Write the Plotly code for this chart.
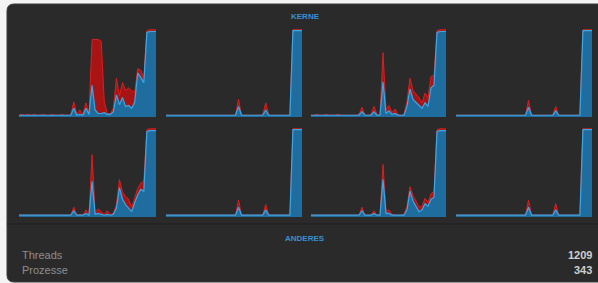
import plotly.graph_objects as go

W, H = 598, 283

# sample index (46 samples across each core history)
samples = list(range(46))

# ---- core 1 (row 1, col 1)
core1_user = [2, 2, 2, 2, 2, 2, 2, 2, 2, 2, 2, 2, 2, 2, 2, 2, 2, 2, 10, 2, 3, 2, 10, 3,
              36, 8, 4, 4, 5, 3, 3, 6, 25, 14, 22, 12, 13, 10, 17, 50, 45, 39, 96, 97, 97, 97]
core1_total = [2, 3, 2, 3, 2, 3, 2, 2, 3, 2, 2, 3, 2, 2, 3, 2, 2, 2, 17, 3, 8, 3, 16, 4,
               88, 88, 88, 86, 18, 4, 4, 10, 44, 24, 39, 30, 33, 30, 28, 55, 53, 44, 98, 99, 99, 99]
# ---- core 2 (row 1, col 2)
core2_user = [2, 2, 2, 2, 2, 2, 2, 2, 2, 2, 2, 2, 2, 2, 2, 2, 2, 2, 2, 2, 2, 2, 2, 2,
              12, 2, 2, 2, 2, 2, 2, 2, 2, 8, 2, 2, 2, 2, 2, 2, 2, 2, 98, 98, 98, 98]
core2_total = [2, 2, 2, 2, 2, 2, 2, 2, 2, 2, 2, 2, 2, 2, 2, 2, 2, 2, 2, 2, 2, 2, 2, 2,
               20, 2, 2, 2, 2, 2, 2, 2, 2, 16, 2, 2, 2, 2, 2, 2, 2, 2, 99, 99, 99, 99]
# ---- core 3 (row 1, col 3)
core3_user = [2, 2, 2, 2, 2, 2, 2, 2, 2, 2, 2, 2, 2, 2, 2, 2, 2, 6, 2, 2, 2, 6, 2, 2,
              40, 4, 7, 3, 4, 2, 2, 2, 12, 32, 20, 17, 14, 10, 16, 12, 33, 36, 96, 97, 97, 97]
core3_total = [2, 2, 3, 2, 2, 3, 2, 2, 2, 3, 2, 2, 2, 2, 2, 2, 3, 11, 2, 2, 3, 12, 3, 2,
               73, 8, 13, 5, 9, 3, 2, 3, 18, 44, 30, 26, 22, 16, 27, 22, 46, 47, 98, 99, 99, 99]
# ---- core 4 (row 1, col 4)
core4_user = [2, 2, 2, 2, 2, 2, 2, 2, 2, 2, 2, 2, 2, 2, 2, 2, 2, 2, 2, 2, 2, 2, 2, 2,
              11, 2, 2, 2, 2, 2, 2, 2, 2, 7, 2, 2, 2, 2, 2, 2, 2, 2, 98, 98, 98, 98]
core4_total = [2, 2, 2, 2, 2, 2, 2, 2, 2, 2, 2, 2, 2, 2, 2, 2, 2, 2, 2, 2, 2, 2, 2, 2,
               19, 2, 2, 2, 2, 2, 2, 2, 2, 12, 2, 2, 2, 2, 2, 2, 2, 2, 99, 99, 99, 99]
# ---- core 5 (row 2, col 1)
core5_user = [2, 2, 2, 2, 2, 2, 2, 2, 2, 2, 2, 2, 2, 2, 2, 2, 2, 2, 7, 2, 2, 2, 4, 2,
              40, 3, 4, 3, 2, 3, 2, 3, 10, 33, 20, 14, 10, 6, 16, 25, 31, 29, 96, 97, 97, 97]
core5_total = [2, 2, 2, 2, 2, 2, 2, 2, 2, 2, 2, 2, 2, 2, 2, 2, 2, 2, 11, 2, 3, 2, 8, 3,
               70, 5, 9, 6, 3, 7, 3, 4, 14, 42, 28, 23, 20, 11, 23, 32, 38, 40, 98, 99, 99, 99]
# ---- core 6 (row 2, col 2)
core6_user = [2, 2, 2, 2, 2, 2, 2, 2, 2, 2, 2, 2, 2, 2, 2, 2, 2, 2, 2, 2, 2, 2, 2, 2,
              11, 2, 2, 2, 2, 2, 2, 2, 2, 8, 2, 2, 2, 2, 2, 2, 2, 2, 98, 98, 98, 98]
core6_total = [2, 2, 2, 2, 2, 2, 2, 2, 2, 2, 2, 2, 2, 2, 2, 2, 2, 2, 2, 2, 2, 2, 2, 2,
               19, 2, 2, 2, 2, 2, 2, 2, 2, 14, 2, 2, 2, 2, 2, 2, 2, 2, 99, 99, 99, 99]
# ---- core 7 (row 2, col 3)
core7_user = [2, 2, 2, 2, 2, 2, 2, 2, 2, 2, 2, 2, 2, 2, 2, 2, 2, 7, 2, 2, 2, 4, 2, 2,
              42, 4, 4, 2, 2, 2, 2, 2, 8, 29, 18, 12, 6, 8, 15, 12, 20, 22, 96, 97, 97, 97]
core7_total = [2, 2, 2, 2, 2, 2, 2, 2, 2, 2, 2, 2, 2, 2, 2, 2, 2, 11, 2, 2, 2, 7, 2, 2,
               59, 6, 8, 3, 2, 2, 2, 3, 12, 34, 24, 18, 11, 12, 21, 16, 26, 29, 98, 99, 99, 99]
# ---- core 8 (row 2, col 4)
core8_user = [2, 2, 2, 2, 2, 2, 2, 2, 2, 2, 2, 2, 2, 2, 2, 2, 2, 2, 2, 2, 2, 2, 2, 2,
              11, 2, 2, 2, 2, 2, 2, 2, 2, 8, 2, 2, 2, 2, 2, 2, 2, 2, 98, 98, 98, 98]
core8_total = [2, 2, 2, 2, 2, 2, 2, 2, 2, 2, 2, 2, 2, 2, 2, 2, 2, 2, 2, 2, 2, 2, 2, 2,
               19, 2, 2, 2, 2, 2, 2, 2, 2, 15, 2, 2, 2, 2, 2, 2, 2, 2, 99, 99, 99, 99]

section_titles = ["KERNE", "ANDERES"]
stat_labels = ["Threads", "Prozesse"]
stat_values = ["1209", "343"]

cores = [(core1_user, core1_total), (core2_user, core2_total),
         (core3_user, core3_total), (core4_user, core4_total),
         (core5_user, core5_total), (core6_user, core6_total),
         (core7_user, core7_total), (core8_user, core8_total)]

# pixel boxes of the graph cells
col_px = [(19, 156), (166, 302), (311, 446), (456, 592)]
row_px = [(28, 117), (127, 217)]

PANEL = "#2a2a2a"
GRAPH_BG = "#141414"
BLUE_FILL = "#1f6d9e"
BLUE_LINE = "#3aa8e8"
RED_FILL = "#a81414"
RED_LINE = "#d82020"
TITLE_BLUE = "#3a8fd2"

fig = go.Figure()
layout = {}

for k, (user, total) in enumerate(cores):
    r, c = divmod(k, 4)
    ax = "" if k == 0 else str(k + 1)
    x0, x1 = col_px[c]
    y0, y1 = row_px[r]
    layout["xaxis" + ax] = dict(domain=[x0 / W, x1 / W], range=[0, 45], visible=False,
                                anchor="y" + ax, fixedrange=True)
    layout["yaxis" + ax] = dict(domain=[1 - y1 / H, 1 - y0 / H], range=[0, 101], visible=False,
                                anchor="x" + ax, fixedrange=True)
    fig.add_trace(go.Scatter(x=samples, y=total, mode="lines", fill="tozeroy",
                             fillcolor=RED_FILL, line=dict(color=RED_LINE, width=1),
                             xaxis="x" + ax, yaxis="y" + ax, showlegend=False,
                             hoverinfo="skip"))
    fig.add_trace(go.Scatter(x=samples, y=user, mode="lines", fill="tozeroy",
                             fillcolor=BLUE_FILL, line=dict(color=BLUE_LINE, width=1.2),
                             xaxis="x" + ax, yaxis="y" + ax, showlegend=False,
                             hoverinfo="skip"))


def px(x):
    return x / W


def py(y):
    return 1 - y / H


# rounded panel background
L, T, R, B, rad = 7, 4, 606, 282, 7
path = (f"M {px(L + rad)},{py(T)} L {px(R - rad)},{py(T)} Q {px(R)},{py(T)} {px(R)},{py(T + rad)} "
        f"L {px(R)},{py(B - rad)} Q {px(R)},{py(B)} {px(R - rad)},{py(B)} "
        f"L {px(L + rad)},{py(B)} Q {px(L)},{py(B)} {px(L)},{py(B - rad)} "
        f"L {px(L)},{py(T + rad)} Q {px(L)},{py(T)} {px(L + rad)},{py(T)} Z")
shapes = [
    dict(type="path", xref="paper", yref="paper", path=path, fillcolor=PANEL,
         line=dict(color="#3a3a3a", width=1), layer="below"),
    dict(type="line", xref="paper", yref="paper", x0=px(L), x1=1, y0=py(224), y1=py(224),
         line=dict(color="#1d1d1d", width=1), layer="below"),
]

font_fam = "Liberation Sans, Arial, sans-serif"
annotations = [
    dict(text="<b>" + section_titles[0] + "</b>", x=px(305), y=py(17), xref="paper", yref="paper",
         showarrow=False, font=dict(family=font_fam, size=8, color=TITLE_BLUE),
         xanchor="center", yanchor="middle"),
    dict(text="<b>" + section_titles[1] + "</b>", x=px(305), y=py(238), xref="paper", yref="paper",
         showarrow=False, font=dict(family=font_fam, size=8, color=TITLE_BLUE),
         xanchor="center", yanchor="middle"),
]
for i, (lab, val) in enumerate(zip(stat_labels, stat_values)):
    yy = 255 + i * 15
    annotations.append(dict(text=lab, x=px(20), y=py(yy), xref="paper", yref="paper",
                            showarrow=False, xanchor="left", yanchor="middle",
                            font=dict(family=font_fam, size=11, color="#8e8e8e")))
    annotations.append(dict(text="<b>" + val + "</b>", x=px(594), y=py(yy), xref="paper", yref="paper",
                            showarrow=False, xanchor="right", yanchor="middle",
                            font=dict(family=font_fam, size=11, color="#cfcfcf")))

fig.update_layout(
    width=W, height=H,
    margin=dict(l=0, r=0, t=0, b=0),
    paper_bgcolor="#f4f4f4",
    plot_bgcolor=GRAPH_BG,
    shapes=shapes,
    annotations=annotations,
    **layout,
)

fig.write_html("out.html", config={"displayModeBar": False},
               post_script="document.body.style.margin='0';document.body.style.overflow='hidden';")
